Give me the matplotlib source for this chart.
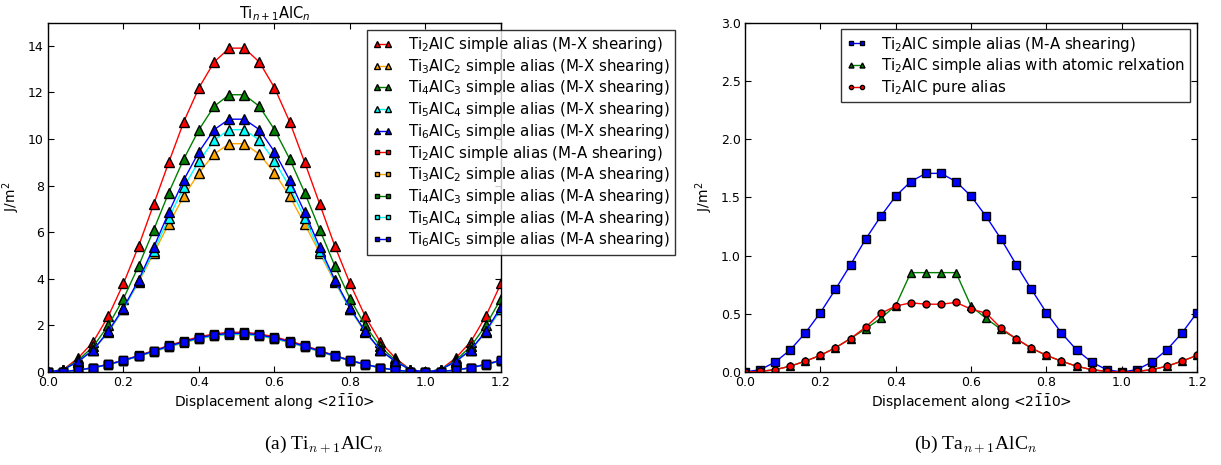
import matplotlib
matplotlib.use("Agg")
import matplotlib.pyplot as plt

plt.rcParams['font.family'] = ['DejaVu Sans']
plt.rcParams['mathtext.fontset'] = 'dejavusans'
plt.rcParams['xtick.direction'] = 'in'
plt.rcParams['ytick.direction'] = 'in'
plt.rcParams['xtick.top'] = True
plt.rcParams['ytick.right'] = True
plt.rcParams['xtick.major.size'] = 4
plt.rcParams['ytick.major.size'] = 4
plt.rcParams['axes.linewidth'] = 1.0

# displacement along <2-1-10>
disp = [0.0, 0.04, 0.08, 0.12, 0.16, 0.2, 0.24, 0.28, 0.32, 0.36, 0.4, 0.44, 0.48, 0.52, 0.56, 0.6,
        0.64, 0.68, 0.72, 0.76, 0.8, 0.84, 0.88, 0.92, 0.96, 1.0, 1.04, 1.08, 1.12, 1.16, 1.2]

# (a) Ti_{n+1}AlC_n, M-X shearing
ti2_mx = [0, 0.1, 0.6, 1.3, 2.4, 3.8, 5.4, 7.2, 9.0, 10.75, 12.2, 13.3, 13.9, 13.9, 13.3, 12.2,
          10.75, 9.0, 7.2, 5.4, 3.8, 2.4, 1.3, 0.6, 0.1, 0, 0.1, 0.6, 1.3, 2.4, 3.8]
ti3_mx = [0, 0.1, 0.45, 0.95, 1.7, 2.7, 3.85, 5.1, 6.35, 7.55, 8.55, 9.35, 9.8, 9.8, 9.35, 8.55,
          7.55, 6.35, 5.1, 3.85, 2.7, 1.7, 0.95, 0.45, 0.1, 0, 0.1, 0.45, 0.95, 1.7, 2.7]
ti4_mx = [0, 0.1, 0.5, 1.1, 2.0, 3.15, 4.55, 6.1, 7.7, 9.15, 10.4, 11.4, 11.9, 11.9, 11.4, 10.4,
          9.15, 7.7, 6.1, 4.55, 3.15, 2.0, 1.1, 0.5, 0.1, 0, 0.1, 0.5, 1.1, 2.0, 3.15]
ti5_mx = [0, 0.1, 0.45, 0.95, 1.75, 2.7, 3.9, 5.2, 6.6, 7.95, 9.05, 9.95, 10.4, 10.4, 9.95, 9.05,
          7.95, 6.6, 5.2, 3.9, 2.7, 1.75, 0.95, 0.45, 0.1, 0, 0.1, 0.45, 0.95, 1.75, 2.7]
ti6_mx = [0, 0.1, 0.45, 0.95, 1.75, 2.75, 3.95, 5.35, 6.85, 8.25, 9.45, 10.4, 10.85, 10.85, 10.4, 9.45,
          8.25, 6.85, 5.35, 3.95, 2.75, 1.75, 0.95, 0.45, 0.1, 0, 0.1, 0.45, 0.95, 1.75, 2.8]

# (a) Ti_{n+1}AlC_n, M-A shearing
ti2_ma = [0, 0.02, 0.085, 0.19, 0.335, 0.51, 0.71, 0.92, 1.14, 1.335, 1.51, 1.635, 1.705, 1.705, 1.635, 1.51,
          1.335, 1.14, 0.92, 0.71, 0.51, 0.335, 0.19, 0.085, 0.02, 0, 0.02, 0.085, 0.19, 0.335, 0.51]
ti3_ma = [0, 0.02, 0.08, 0.18, 0.31, 0.48, 0.67, 0.86, 1.07, 1.25, 1.42, 1.54, 1.6, 1.6, 1.54, 1.42,
          1.25, 1.07, 0.86, 0.67, 0.48, 0.31, 0.18, 0.08, 0.02, 0, 0.02, 0.08, 0.18, 0.31, 0.48]
ti4_ma = [0, 0.02, 0.08, 0.185, 0.325, 0.49, 0.69, 0.89, 1.1, 1.29, 1.46, 1.58, 1.65, 1.65, 1.58, 1.46,
          1.29, 1.1, 0.89, 0.69, 0.49, 0.325, 0.185, 0.08, 0.02, 0, 0.02, 0.08, 0.185, 0.325, 0.49]
ti5_ma = [0, 0.02, 0.08, 0.18, 0.32, 0.485, 0.68, 0.875, 1.08, 1.27, 1.435, 1.555, 1.62, 1.62, 1.555, 1.435,
          1.27, 1.08, 0.875, 0.68, 0.485, 0.32, 0.18, 0.08, 0.02, 0, 0.02, 0.08, 0.18, 0.32, 0.485]
ti6_ma = [0, 0.02, 0.08, 0.185, 0.325, 0.495, 0.69, 0.895, 1.105, 1.295, 1.465, 1.59, 1.655, 1.655, 1.59, 1.465,
          1.295, 1.105, 0.895, 0.69, 0.495, 0.325, 0.185, 0.08, 0.02, 0, 0.02, 0.08, 0.185, 0.325, 0.495]

# (b) Ta_{n+1}AlC_n
ta_ma = [0, 0.02, 0.085, 0.19, 0.335, 0.51, 0.71, 0.92, 1.14, 1.335, 1.51, 1.635, 1.705, 1.705, 1.635, 1.51,
         1.335, 1.14, 0.92, 0.71, 0.51, 0.335, 0.19, 0.085, 0.02, 0, 0.02, 0.085, 0.19, 0.335, 0.51]
ta_relax = [0, 0.005, 0.02, 0.05, 0.093, 0.143, 0.208, 0.287, 0.37, 0.46, 0.57, 0.853, 0.853, 0.853, 0.853, 0.565,
            0.46, 0.365, 0.285, 0.205, 0.143, 0.093, 0.05, 0.02, 0.005, 0, 0.005, 0.02, 0.05, 0.093, 0.143]
ta_pure = [0, 0.005, 0.02, 0.05, 0.093, 0.143, 0.208, 0.287, 0.385, 0.503, 0.566, 0.594, 0.582, 0.582, 0.597, 0.54,
           0.505, 0.375, 0.285, 0.205, 0.143, 0.093, 0.05, 0.02, 0.005, 0, 0.005, 0.02, 0.05, 0.093, 0.143]

names = ['Ti$_2$AlC', 'Ti$_3$AlC$_2$', 'Ti$_4$AlC$_3$', 'Ti$_5$AlC$_4$', 'Ti$_6$AlC$_5$']
colors = ['red', 'orange', 'green', 'cyan', 'blue']
mx_series = [ti2_mx, ti3_mx, ti4_mx, ti5_mx, ti6_mx]
ma_series = [ti2_ma, ti3_ma, ti4_ma, ti5_ma, ti6_ma]

xlabel = r'Displacement along <2$\bar{1}\bar{1}$0>'
leg_kw = dict(numpoints=2, fontsize=10.8, markerscale=0.6, fancybox=False, edgecolor='k',
              handlelength=1.35, handletextpad=1.0, labelspacing=0.18, borderpad=0.35)

fig = plt.figure(figsize=(12.21, 4.65), dpi=100)
ax1 = fig.add_axes([0.0393, 0.2, 0.371, 0.7516])
ax2 = fig.add_axes([0.6102, 0.2, 0.3702, 0.7516])

for name, c, y in zip(names, colors, mx_series):
    ax1.plot(disp, y, '-^', color=c, mfc=c, mec='k', ms=6.5, lw=1,
             label=name + ' simple alias (M-X shearing)')
for name, c, y in zip(names, colors, ma_series):
    ax1.plot(disp, y, '-s', color=c, mfc=c, mec='k', ms=5.5, lw=1,
             label=name + ' simple alias (M-A shearing)')

ax1.set_xlim(0, 1.2)
ax1.set_ylim(0, 15)
ax1.set_yticks(range(0, 15, 2))
ax1.set_xticks([0.0, 0.2, 0.4, 0.6, 0.8, 1.0, 1.2])
ax1.set_xlabel(xlabel, fontsize=10, labelpad=2)
ax1.set_ylabel('J/m$^2$', fontsize=10)
ax1.set_title('Ti$_{n+1}$AlC$_n$', fontsize=10.5, pad=3)
ax1.tick_params(labelsize=9, pad=3)
leg1 = ax1.legend(loc='upper right', bbox_to_anchor=(1.384, 0.979), borderaxespad=0, **leg_kw)
leg1.get_frame().set_linewidth(1.0)

ax2.plot(disp, ta_ma, '-s', color='blue', mfc='blue', mec='k', ms=5.5, lw=1,
         label='Ti$_2$AlC simple alias (M-A shearing)')
ax2.plot(disp, ta_relax, '-^', color='green', mfc='green', mec='k', ms=6, lw=1,
         label='Ti$_2$AlC simple alias with atomic relxation')
ax2.plot(disp, ta_pure, '-o', color='red', mfc='red', mec='k', ms=5, lw=1,
         label='Ti$_2$AlC pure alias')
ax2.set_xlim(0, 1.2)
ax2.set_ylim(0, 3.0)
ax2.set_yticks([0.0, 0.5, 1.0, 1.5, 2.0, 2.5, 3.0])
ax2.set_xticks([0.0, 0.2, 0.4, 0.6, 0.8, 1.0, 1.2])
ax2.set_xlabel(xlabel, fontsize=10, labelpad=2)
ax2.set_ylabel('J/m$^2$', fontsize=10)
ax2.tick_params(labelsize=9, pad=3)
leg2 = ax2.legend(loc='upper right', borderaxespad=0.45, **leg_kw)
leg2.get_frame().set_linewidth(1.0)

fig.text(0.265, 0.045, r'(a) Ti$_{n+1}$AlC$_n$', family='Liberation Serif', math_fontfamily='cm',
         fontsize=14, ha='center', va='center')
fig.text(0.799, 0.045, r'(b) Ta$_{n+1}$AlC$_n$', family='Liberation Serif', math_fontfamily='cm',
         fontsize=14, ha='center', va='center')

fig.savefig('out.png', dpi=100, facecolor='white')
